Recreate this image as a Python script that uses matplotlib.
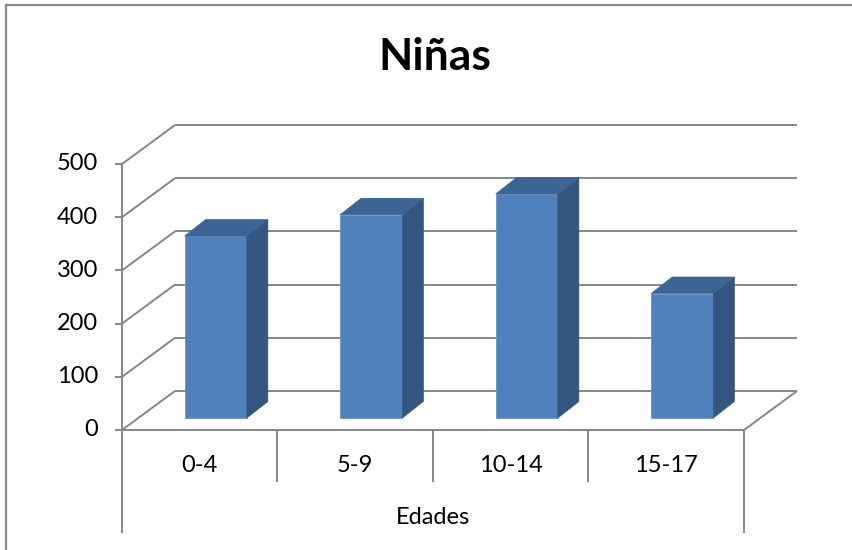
import matplotlib
matplotlib.use("Agg")
import matplotlib.pyplot as plt
from matplotlib.patches import Polygon
from matplotlib.lines import Line2D

# Data
categories = ["0-4", "5-9", "10-14", "15-17"]
values = [342, 382, 421, 234]
y_ticks = [0, 100, 200, 300, 400, 500]
title = "Niñas"
x_label = "Edades"

plt.rcParams["font.family"] = ["Lato", "DejaVu Sans"]

W, H = 853, 550
fig = plt.figure(figsize=(W / 100, H / 100), dpi=100)
fig.patch.set_facecolor("white")

# front plane of the 3d box, in pixels
left_px, right_px, bottom_px, top_px = 122, 744, 430, 164
ax = fig.add_axes([left_px / W, 1 - bottom_px / H,
                   (right_px - left_px) / W, (bottom_px - top_px) / H])
n = len(categories)
ymax = y_ticks[-1]
ax.set_xlim(0, n)
ax.set_ylim(0, ymax)
ax.axis("off")

# pixel -> data units
px_x = n / (right_px - left_px)
px_y = ymax / (bottom_px - top_px)

grid_col = "#868686"
grid_lw = 1.4

# depth offsets (px)
back_dx, back_dy = 53 * px_x, 39 * px_y
plane_dx, plane_dy = 16 * px_x, 12 * px_y
depth_dx, depth_dy = 21 * px_x, 16.5 * px_y

def line(xs, ys, **kw):
    ax.add_line(Line2D(xs, ys, color=grid_col, lw=grid_lw, clip_on=False,
                       solid_capstyle="butt", zorder=1, **kw))

# walls and gridlines
for v in y_ticks:
    line([0, back_dx], [v, v + back_dy])
    line([back_dx, n + back_dx], [v + back_dy, v + back_dy])
    line([-7 * px_x, 0], [v, v])
    ax.text(-24 * px_x, v, str(v), ha="right", va="center", fontsize=17,
            color="#000000")
line([0, 0], [0, ymax])
line([0, n], [0, 0])
line([n, n + back_dx], [0, back_dy])

# category dividers under the floor
for i in range(n + 1):
    depth = 103 if i in (0, n) else 52
    line([i, i], [0, -depth * px_y])
for i, c in enumerate(categories):
    ax.text(i + 0.5, -35 * px_y, c, ha="center", va="center", fontsize=17)
ax.text(n / 2, -87 * px_y, x_label, ha="center", va="center", fontsize=17)

# bars
front_col = "#4f81bd"
side_col = "#34557f"
top_col = "#3c6494"
bar_w = 0.4
for i, v in enumerate(values):
    x0 = i + 0.5 - bar_w / 2 + plane_dx
    x1 = x0 + bar_w
    y0 = plane_dy
    y1 = plane_dy + v
    ax.bar(x0, v, width=bar_w, bottom=y0, align="edge", color=front_col,
           edgecolor="#6a96cc", linewidth=0.6, zorder=3, clip_on=False)
    side = [(x1, y0), (x1, y1), (x1 + depth_dx, y1 + depth_dy),
            (x1 + depth_dx, y0 + depth_dy)]
    ax.add_patch(Polygon(side, closed=True, facecolor=side_col,
                         edgecolor=side_col, lw=0.5, zorder=3, clip_on=False))
    top = [(x0, y1), (x1, y1), (x1 + depth_dx, y1 + depth_dy),
           (x0 + depth_dx, y1 + depth_dy)]
    ax.add_patch(Polygon(top, closed=True, facecolor=top_col,
                         edgecolor=top_col, lw=0.5, zorder=3, clip_on=False))

# title
fig.text(435 / W, 1 - 57 / H, title, ha="center", va="center",
         fontsize=32, fontweight="bold")

# chart frame (left and top edges visible)
fx, fy = 6 / W, 1 - 5 / H
fig.add_artist(Line2D([fx, fx], [0, fy], color="#8c8c8c", lw=1.6))
fig.add_artist(Line2D([fx, 1], [fy, fy], color="#8c8c8c", lw=1.6))

fig.savefig("out.png", dpi=100, facecolor="white")
